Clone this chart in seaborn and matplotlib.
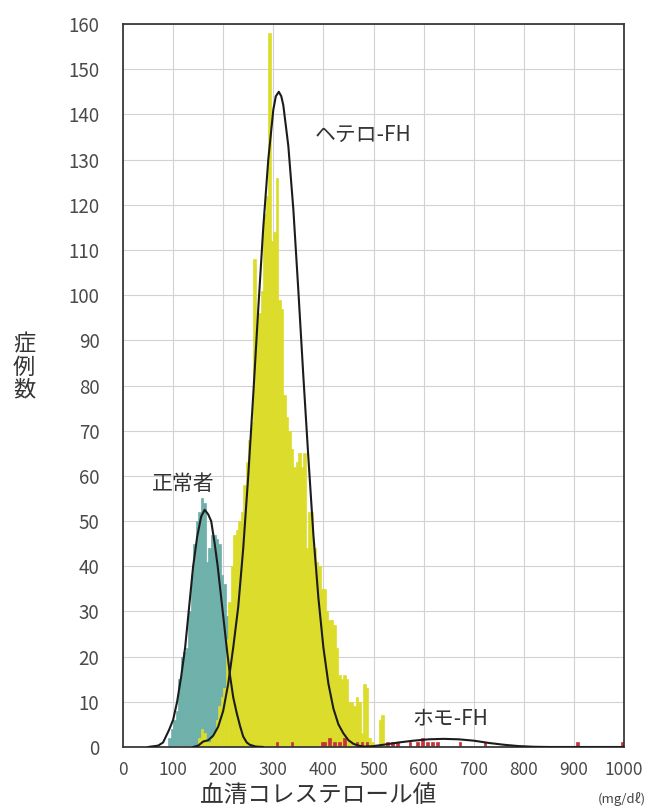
import numpy as np
import pandas as pd
import seaborn as sns
import matplotlib.pyplot as plt

# histogram counts per 5 mg/dl bin (left edge of bin -> number of cases)
normal_left = [90, 95, 100, 105, 110, 115, 120, 125, 130, 135, 140, 145, 150, 155,
               160, 165, 170, 175, 180, 185, 190, 195, 200, 205, 210, 215, 220, 225,
               230, 235]
normal_cnt = [2, 4, 6, 8, 15, 20, 21, 22, 30, 38, 45, 50, 52, 55,
              54, 41, 44, 47, 47, 46, 45, 38, 36, 29, 28, 20, 14, 8,
              4, 2]

hetero_left = [150, 155, 160, 165, 170, 175, 180, 185, 190, 195, 200, 205, 210, 215,
               220, 225, 230, 235, 240, 245, 250, 255, 260, 265, 270, 275, 280, 285,
               290, 295, 300, 305, 310, 315, 320, 325, 330, 335, 340, 345, 350, 355,
               360, 365, 370, 375, 380, 385, 390, 395, 400, 405, 410, 415, 420, 425,
               430, 435, 440, 445, 450, 455, 460, 465, 470, 475, 480, 485, 490, 495,
               510, 515]
hetero_cnt = [2, 4, 3, 1, 1, 2, 3, 6, 9, 11, 13, 24, 32, 40,
              47, 48, 50, 52, 58, 63, 68, 72, 108, 93, 96, 101, 118, 122,
              158, 112, 114, 126, 99, 97, 78, 73, 70, 66, 62, 63, 65, 62,
              65, 44, 52, 52, 44, 41, 40, 35, 35, 30, 28, 28, 27, 22,
              16, 15, 16, 15, 10, 10, 9, 11, 10, 3, 14, 13, 2, 1,
              6, 7]

homo_left = [305, 335, 395, 400, 410, 420, 430, 440, 465, 475, 485, 525, 535, 545,
             570, 585, 595, 605, 615, 625, 670, 720, 905, 995]
homo_cnt = [1, 1, 1, 1, 2, 1, 1, 2, 1, 1, 1, 1, 1, 1,
            1, 1, 2, 1, 1, 1, 1, 1, 1, 1]

# fitted curves
normal_curve_x = [50, 70, 80, 92, 100, 108, 116, 124, 132, 140, 148, 156, 163, 170,
                  176, 183, 189, 196, 202, 208, 214, 220, 227, 234, 240, 247, 253, 265, 280]
normal_curve_y = [0, 0.3, 1, 3.8, 6, 10, 15.5, 22, 31, 40, 46.5, 51, 52.5, 51.5,
                  50, 45, 40, 33, 27, 21, 15.5, 11, 7.5, 4.5, 2.3, 1, 0.5, 0.1, 0]

hetero_curve_x = [140, 150, 160, 170, 180, 190, 200, 210, 220, 230, 240, 250, 260, 270,
                  280, 290, 300, 305, 311, 316, 320, 330, 340, 350, 360, 370, 380, 390,
                  400, 410, 420, 430, 440, 450, 460, 470, 480, 500]
hetero_curve_y = [0, 0.3, 1.2, 1.5, 2.5, 4.5, 8, 14, 22, 31, 44, 60, 78, 97,
                  115, 130, 141, 144, 145, 144, 142, 133, 119, 101, 82, 64, 47, 33,
                  22, 14, 8.5, 5, 3, 1.5, 0.7, 0.3, 0.1, 0]

homo_curve_x = [480, 500, 520, 550, 580, 610, 640, 670, 700, 730, 760, 790, 820, 850, 1000]
homo_curve_y = [0, 0.2, 0.5, 1.0, 1.4, 1.7, 1.8, 1.7, 1.4, 0.9, 0.5, 0.2, 0.05, 0, 0]

xticks = list(range(0, 1001, 100))
yticks = list(range(0, 161, 10))

sns.set_theme(style="white")
plt.rcParams["font.family"] = ["Noto Sans CJK JP", "DejaVu Sans"]

fig = plt.figure(figsize=(6.52, 8.10), dpi=100)
ax = fig.add_axes([123 / 652, 1 - 747 / 810, 501 / 652, 723 / 810])

groups = [
    (normal_left, normal_cnt, "#6eb0aa"),
    (hetero_left, hetero_cnt, "#dcdc2a"),
    (homo_left, homo_cnt, "#c4343c"),
]
for left, cnt, col in groups:
    df = pd.DataFrame({"v": np.array(left) + 2.5, "n": cnt})
    sns.histplot(data=df, x="v", weights="n", binwidth=5, binrange=(0, 1000),
                 color=col, alpha=1, edgecolor=col, linewidth=0.5, ax=ax)

for cx, cy in [(normal_curve_x, normal_curve_y),
               (hetero_curve_x, hetero_curve_y),
               (homo_curve_x, homo_curve_y)]:
    sns.lineplot(x=cx, y=cy, color="#1c1c1c", lw=1.5, ax=ax, zorder=5)

ax.set_xlim(0, 1000)
ax.set_ylim(0, 160)
ax.set_xticks(xticks)
ax.set_yticks(yticks)
ax.set_xlabel("")
ax.set_ylabel("")
ax.grid(True, color="#d2d2d2", lw=0.8)
ax.set_axisbelow(True)
ax.tick_params(axis="y", length=8, color="#d2d2d2", width=0.8, pad=9,
               labelsize=13.5, labelcolor="#4a4a4a")
ax.tick_params(axis="x", length=0, pad=10, labelsize=12.5, labelcolor="#4a4a4a")
for s in ax.spines.values():
    s.set_visible(True)
    s.set_color("#3a3a3a")
    s.set_linewidth(1.3)

ax.text(383, 135.5, "ヘテロ-FH", va="center", ha="left", fontsize=15, color="#333333")
ax.text(58, 58.3, "正常者", va="center", ha="left", fontsize=15, color="#333333")
ax.text(577, 6.4, "ホモ-FH", va="center", ha="left", fontsize=15, color="#333333")

fig.text(24 / 652, 1 - 367 / 810, "症\n例\n数", ha="center", va="center",
         fontsize=16, linespacing=1.0, color="#333333")
fig.text(318 / 652, 1 - 796 / 810, "血清コレステロール値", ha="center", va="center",
         fontsize=17, color="#333333")
fig.text(622 / 652, 1 - 799 / 810, "(mg/dℓ)", ha="center", va="center",
         fontsize=9.5, color="#444444")

fig.savefig("out.png", dpi=100)
